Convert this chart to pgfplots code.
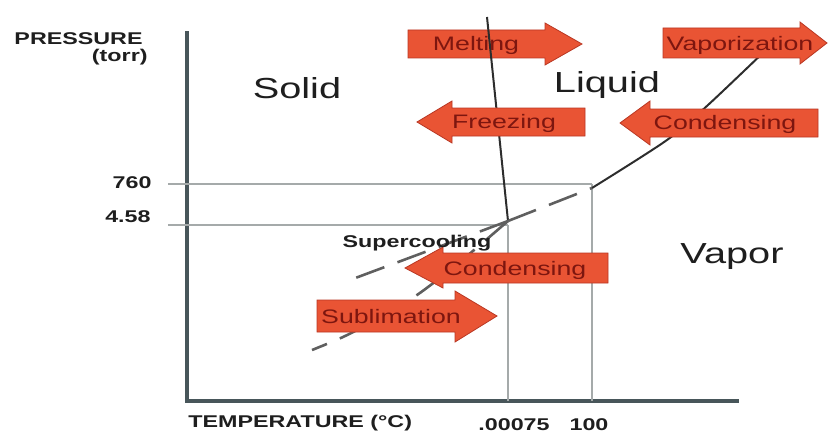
\documentclass[border=0pt]{standalone}
\usepackage{fontspec}
\setmainfont{Liberation Sans}
\usepackage{graphicx}
\usepackage{pgfplots}
\pgfplotsset{compat=1.18}
\definecolor{spine}{RGB}{72,86,90}
\definecolor{gridc}{RGB}{165,170,170}
\definecolor{arrowfill}{RGB}{233,84,52}
\definecolor{arrowedge}{RGB}{185,55,35}
\definecolor{arrowtext}{RGB}{125,22,15}
\definecolor{curve}{RGB}{45,45,45}
\definecolor{dashc}{RGB}{95,95,95}
\definecolor{txt}{RGB}{30,30,30}
\newcommand{\sx}[1]{\scalebox{1.37}[1]{#1}}
\begin{document}
\begin{tikzpicture}
\begin{axis}[
  scale only axis, width=275pt, height=184pt,
  xmin=187, xmax=737, ymin=33, ymax=401,
  axis x line=bottom, axis y line=left,
  axis line style={-, spine, line width=1.8pt, line cap=rect},
  xtick=\empty, ytick=\empty,
  clip=false,
]
% bounding box of the whole picture
\path (axis cs:0,0) rectangle (axis cs:829,434);
% reference lines
\addplot[gridc, line width=0.7pt, forget plot] coordinates {(168,250) (592,250)};
\addplot[gridc, line width=0.7pt, forget plot] coordinates {(168,209) (508,209)};
\addplot[gridc, line width=0.7pt, forget plot] coordinates {(508,209) (508,33)};
\addplot[gridc, line width=0.7pt, forget plot] coordinates {(592,250) (592,33)};
% Melting arrow (under the melting line)
\fill[arrowfill, draw=arrowedge, line width=0.4pt] (axis cs:408,376) -- (axis cs:545,376) -- (axis cs:545,369) -- (axis cs:582,390) -- (axis cs:545,411) -- (axis cs:545,404) -- (axis cs:408,404) -- cycle;
% phase boundaries
\addplot[curve, line width=1pt, forget plot] coordinates {(487,417) (508,213)};
\addplot[curve, line width=1pt, smooth, forget plot] coordinates {(592,246) (667,294) (708,329) (768,386)};
\addplot[dashc, line width=1.3pt, dash pattern=on 15pt off 7pt, forget plot] coordinates {(508,213) (592,246)};
\addplot[dashc, line width=1.3pt, dash pattern=on 15pt off 7pt, forget plot] coordinates {(508,213) (350,154)};
\addplot[dashc, line width=1.3pt, dash pattern=on 15pt off 7pt, smooth, forget plot] coordinates {(508,213) (480,189) (450,164) (417,139) (380,116) (343,97) (312,84)};
% Freezing
\fill[arrowfill, draw=arrowedge, line width=0.4pt] (axis cs:585,298) -- (axis cs:452,298) -- (axis cs:452,291) -- (axis cs:417,312) -- (axis cs:452,333) -- (axis cs:452,326) -- (axis cs:585,326) -- cycle;
% Vaporization
\fill[arrowfill, draw=arrowedge, line width=0.4pt] (axis cs:663,376) -- (axis cs:800,376) -- (axis cs:800,370) -- (axis cs:827,391) -- (axis cs:800,412) -- (axis cs:800,406) -- (axis cs:663,406) -- cycle;
% Condensing (upper)
\fill[arrowfill, draw=arrowedge, line width=0.4pt] (axis cs:818,297) -- (axis cs:650,297) -- (axis cs:650,289) -- (axis cs:620,311) -- (axis cs:650,333) -- (axis cs:650,325) -- (axis cs:818,325) -- cycle;
% Condensing (lower)
\fill[arrowfill, draw=arrowedge, line width=0.4pt] (axis cs:608,151) -- (axis cs:443,151) -- (axis cs:443,146) -- (axis cs:405,166) -- (axis cs:443,187) -- (axis cs:443,181) -- (axis cs:608,181) -- cycle;
% Sublimation
\fill[arrowfill, draw=arrowedge, line width=0.4pt] (axis cs:317,102) -- (axis cs:455,102) -- (axis cs:455,92) -- (axis cs:497,118) -- (axis cs:455,143) -- (axis cs:455,134) -- (axis cs:317,134) -- cycle;
% arrow labels
\begin{scope}[every node/.style={font=\fontsize{9.75}{11}\selectfont, text=arrowtext, inner sep=0pt}]
\node at (axis cs:476,389) {\sx{Melting}};
\node at (axis cs:504,311) {\sx{Freezing}};
\node at (axis cs:740,389) {\sx{Vaporization}};
\node at (axis cs:725,310) {\sx{Condensing}};
\node at (axis cs:515,164) {\sx{Condensing}};
\node at (axis cs:391,117) {\sx{Sublimation}};
\end{scope}
% phase labels
\begin{scope}[every node/.style={font=\fontsize{14.5}{16}\selectfont, text=txt, inner sep=0pt, anchor=base}]
\node at (axis cs:297,336) {\sx{Solid}};
\node at (axis cs:607,341) {\sx{Liquid}};
\node at (axis cs:732,171) {\sx{Vapor}};
\end{scope}
\node[font=\fontsize{8.5}{10}\selectfont\bfseries, text=txt, inner sep=0pt, anchor=base] at (axis cs:417,187) {\sx{Supercooling}};
% axis annotations
\begin{scope}[every node/.style={font=\fontsize{8.5}{10}\selectfont\bfseries, text=txt, inner sep=0pt}]
\node[anchor=east] at (axis cs:143,395) {\sx{PRESSURE}};
\node[anchor=east] at (axis cs:148,377) {\sx{(torr)}};
\node[anchor=east] at (axis cs:152,251) {\sx{760}};
\node[anchor=east] at (axis cs:151,217) {\sx{4.58}};
\node[anchor=west] at (axis cs:188,11) {\sx{TEMPERATURE (°C)}};
\node at (axis cs:514,9) {\sx{.00075}};
\node at (axis cs:589,9) {\sx{100}};
\end{scope}
\end{axis}
\end{tikzpicture}
\end{document}
